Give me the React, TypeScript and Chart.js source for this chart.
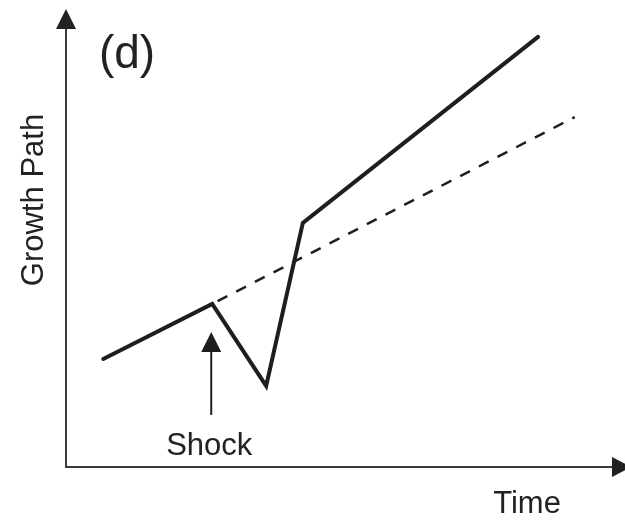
import React, { useEffect, useRef } from "react";
import { Chart, registerables } from "chart.js";

Chart.register(...registerables);

// Schematic values (arbitrary units 0..100)
const actualTime = [6.7, 26.3, 36.0, 42.6, 84.9];
const actualGrowth = [23.6, 35.6, 17.7, 53.3, 93.9];
const trendTime = [26.3, 91.5];
const trendGrowth = [35.6, 76.4];
const shockIndex = 1;
const panelLabel = "(d)";
const yTitle = "Growth Path";
const xTitle = "Time";
const shockLabel = "Shock";

const INK = "#1e1e1e";
const AXIS = "#3a3a3a";
const FONT = "'Liberation Sans', Arial, Helvetica, sans-serif";

const decorPlugin = {
  id: "decor",
  afterDatasetsDraw(chart: any) {
    const { ctx, chartArea, scales } = chart;
    const { left, right, top, bottom } = chartArea;
    ctx.save();
    // axes
    ctx.strokeStyle = AXIS;
    ctx.fillStyle = "#222";
    ctx.lineWidth = 2;
    ctx.beginPath();
    ctx.moveTo(left, bottom);
    ctx.lineTo(left, top + 18);
    ctx.moveTo(left - 1, bottom);
    ctx.lineTo(right - 8, bottom);
    ctx.stroke();
    // y arrow head
    ctx.beginPath();
    ctx.moveTo(left, top);
    ctx.lineTo(left - 10, top + 20);
    ctx.lineTo(left + 10, top + 20);
    ctx.closePath();
    ctx.fill();
    // x arrow head
    ctx.beginPath();
    ctx.moveTo(right + 9, bottom);
    ctx.lineTo(right - 10, bottom - 10);
    ctx.lineTo(right - 10, bottom + 10);
    ctx.closePath();
    ctx.fill();

    // shock arrow
    const sx = scales.x.getPixelForValue(actualTime[shockIndex]) - 1;
    const sy = scales.y.getPixelForValue(actualGrowth[shockIndex]);
    const tipY = sy + 28;
    ctx.fillStyle = INK;
    ctx.strokeStyle = INK;
    ctx.lineWidth = 2;
    ctx.beginPath();
    ctx.moveTo(sx, tipY + 18);
    ctx.lineTo(sx, tipY + 83);
    ctx.stroke();
    ctx.beginPath();
    ctx.moveTo(sx, tipY);
    ctx.lineTo(sx - 10, tipY + 20);
    ctx.lineTo(sx + 10, tipY + 20);
    ctx.closePath();
    ctx.fill();

    // texts
    ctx.fillStyle = "#222";
    ctx.textAlign = "center";
    ctx.textBaseline = "alphabetic";
    ctx.font = `31px ${FONT}`;
    ctx.fillText(shockLabel, sx - 2, tipY + 123);
    ctx.fillText(xTitle, 527, 513);
    ctx.font = `46px ${FONT}`;
    ctx.fillText(panelLabel, 127, 68);
    ctx.font = `31px ${FONT}`;
    ctx.translate(43, 200);
    ctx.rotate(-Math.PI / 2);
    ctx.fillText(yTitle, 0, 0);
    ctx.restore();
  },
};

export default function App() {
  const ref = useRef<HTMLCanvasElement | null>(null);
  useEffect(() => {
    if (!ref.current) return;
    const chart = new Chart(ref.current, {
      type: "line",
      data: {
        datasets: [
          {
            label: "Actual path",
            data: actualTime.map((t, i) => ({ x: t, y: actualGrowth[i] })),
            borderColor: INK,
            borderWidth: 4,
            pointRadius: 0,
            borderJoinStyle: "miter",
            borderCapStyle: "round",
            tension: 0,
          },
          {
            label: "Trend",
            data: trendTime.map((t, i) => ({ x: t, y: trendGrowth[i] })),
            borderColor: INK,
            borderWidth: 2.5,
            borderDash: [11, 10],
            borderDashOffset: -6,
            pointRadius: 0,
            tension: 0,
          },
        ],
      },
      options: {
        responsive: false,
        animation: false,
        layout: { padding: { left: 66, top: 9, right: 3, bottom: 54 } },
        plugins: { legend: { display: false }, tooltip: { enabled: false } },
        scales: {
          x: { type: "linear", min: 0, max: 100, display: false },
          y: { type: "linear", min: 0, max: 100, display: false },
        },
      },
      plugins: [decorPlugin],
    });
    return () => chart.destroy();
  }, []);
  return (
    <div style={{ position: "fixed", left: 0, top: 0, width: 625, height: 521, background: "#fff" }}>
      <canvas ref={ref} width={625} height={521} style={{ width: 625, height: 521 }} />
    </div>
  );
}
